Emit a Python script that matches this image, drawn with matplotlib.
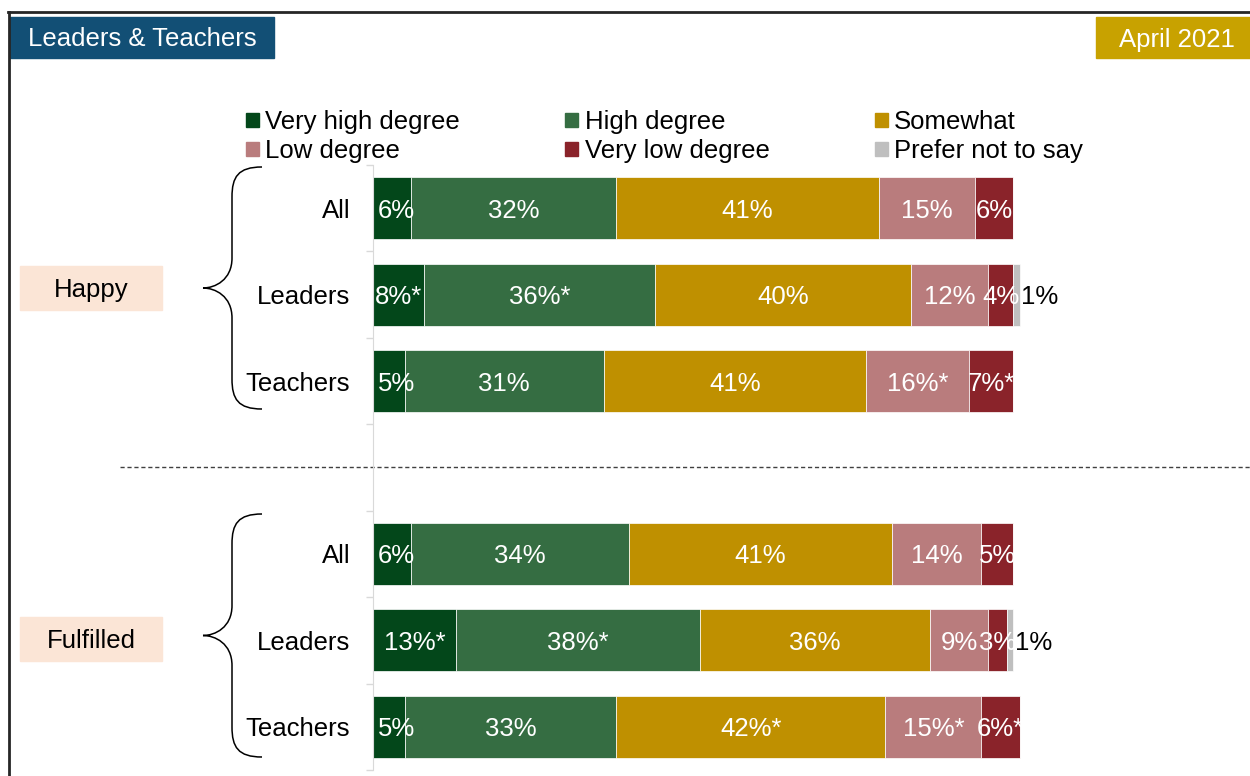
import matplotlib.pyplot as plt
import numpy as np
from matplotlib.patches import Rectangle, Patch, PathPatch
from matplotlib.path import Path

plt.rcParams['font.family'] = ['Liberation Sans', 'DejaVu Sans']
FS = 18.5

# data (row order: Happy All/Leaders/Teachers, Fulfilled All/Leaders/Teachers)
groups = ["Happy", "Fulfilled"]
rows = ["All", "Leaders", "Teachers", "All", "Leaders", "Teachers"]
row_pos = [0, 1, 2, 4, 5, 6]

very_high = [6, 8, 5, 6, 13, 5]
high = [32, 36, 31, 34, 38, 33]
somewhat = [41, 40, 41, 41, 36, 42]
low = [15, 12, 16, 14, 9, 15]
very_low = [6, 4, 7, 5, 3, 6]
prefer = [0, 1, 0, 0, 1, 0]

# significance markers (*)
very_high_sig = [0, 1, 0, 0, 1, 0]
high_sig = [0, 1, 0, 0, 1, 0]
somewhat_sig = [0, 0, 0, 0, 0, 1]
low_sig = [0, 0, 1, 0, 0, 1]
very_low_sig = [0, 0, 1, 0, 0, 1]

series = [
    ("Very high degree", very_high, very_high_sig, '#03471A'),
    ("High degree", high, high_sig, '#356D42'),
    ("Somewhat", somewhat, somewhat_sig, '#BF9000'),
    ("Low degree", low, low_sig, '#B97C7D'),
    ("Very low degree", very_low, very_low_sig, '#8A232A'),
]
prefer_color = '#BFBFBF'

W, H = 1250, 776
fig = plt.figure(figsize=(W / 100, H / 100), dpi=100)

# overlay in pixel coords for frame, header boxes, braces
ov = fig.add_axes([0, 0, 1, 1])
ov.set_xlim(0, W)
ov.set_ylim(H, 0)
ov.axis('off')

ov.plot([8, W], [12, 12], color='#262626', lw=2)
ov.plot([9, 9], [12, H], color='#262626', lw=2)
ov.add_patch(Rectangle((10, 17), 264, 41, color='#124F75'))
ov.text(142, 37, "Leaders & Teachers", color='white', fontsize=18.5,
        ha='center', va='center_baseline')
ov.add_patch(Rectangle((1096, 17), 160, 41, color='#C8A200'))
ov.text(1177, 37, "April 2021", color='white', fontsize=18.5,
        ha='center', va='center_baseline')

ov.plot([120, W], [467, 467], color='#404040', lw=1, ls=(0, (3, 2)))


def brace(ytop, ybot, xend=262, xmid=232, xtip=203, r=30):
    ymid = (ytop + ybot) / 2
    verts = [(xend, ytop), (xmid + 6, ytop), (xmid, ytop + 10), (xmid, ytop + r),
             (xmid, ymid - r),
             (xmid, ymid - 8), (xtip + 12, ymid), (xtip, ymid),
             (xtip + 12, ymid), (xmid, ymid + 8), (xmid, ymid + r),
             (xmid, ybot - r),
             (xmid, ybot - 10), (xmid + 6, ybot), (xend, ybot)]
    codes = [Path.MOVETO, Path.CURVE4, Path.CURVE4, Path.CURVE4,
             Path.LINETO,
             Path.CURVE4, Path.CURVE4, Path.CURVE4,
             Path.CURVE4, Path.CURVE4, Path.CURVE4,
             Path.LINETO,
             Path.CURVE4, Path.CURVE4, Path.CURVE4]
    ov.add_patch(PathPatch(Path(verts, codes), fill=False, lw=1.1, color='black'))


brace(167, 409)
brace(514, 757)

for name, yc in zip(groups, [288, 639]):
    ov.add_patch(Rectangle((20, yc - 22), 142, 44, color='#FBE5D6'))
    ov.text(91, yc, name, fontsize=FS, ha='center', va='center_baseline')

# bar chart
ax = fig.add_axes([373 / W, 6 / H, 832.5 / W, 605 / H])
ax.set_facecolor('none')
left = np.zeros(len(rows))
handles = {}
for i, (name, vals, sig, col) in enumerate(series):
    vals = np.array(vals)
    ax.barh(row_pos, vals, left=left, height=0.72, color=col,
            edgecolor='white', linewidth=0.5, label=name)
    handles[name] = Patch(color=col)
    for y, v, l, s in zip(row_pos, vals, left, sig):
        txt = f"{v}%" + ("*" if s else "")
        if i == 0 and v < 7:
            # small first segments: label starts just inside the bar
            ax.text(l + 0.8, y, txt, color='white', fontsize=FS,
                    ha='left', va='center_baseline')
        else:
            ax.text(l + v / 2, y, txt, color='white', fontsize=FS,
                    ha='center', va='center_baseline')
    left += vals

prefer = np.array(prefer)
ax.barh(row_pos, prefer, left=left, height=0.72, color=prefer_color,
        edgecolor='white', linewidth=0.5)
handles["Prefer not to say"] = Patch(color=prefer_color)
for y, v, l in zip(row_pos, prefer, left):
    if v > 0:
        ax.text(l + v + 0.2, y, f"{v}%", color='black', fontsize=FS,
                ha='left', va='center_baseline')

ax.set_xlim(0, 130)
ax.set_ylim(6.5, -0.5)
ax.set_yticks(row_pos)
ax.set_yticklabels(rows, fontsize=FS)
ax.set_yticks(np.arange(-0.5, 7), minor=True)
ax.tick_params(axis='y', which='major', length=0, pad=16.5)
ax.tick_params(axis='y', which='minor', length=5, color='#D9D9D9', width=1)
ax.xaxis.set_visible(False)
for s in ['top', 'right', 'bottom']:
    ax.spines[s].set_visible(False)
ax.spines['left'].set_color('#D9D9D9')

order = ["Very high degree", "Low degree", "High degree", "Very low degree",
         "Somewhat", "Prefer not to say"]
fig.legend([handles[k] for k in order], order, ncol=3, frameon=False,
           loc='upper left', bbox_to_anchor=(246 / W, 1 - 110 / H),
           fontsize=FS, handlelength=0.5, handleheight=0.5, handletextpad=0.25,
           columnspacing=4.1, labelspacing=0.2, borderpad=0, borderaxespad=0)

fig.savefig("out.png", dpi=100)
